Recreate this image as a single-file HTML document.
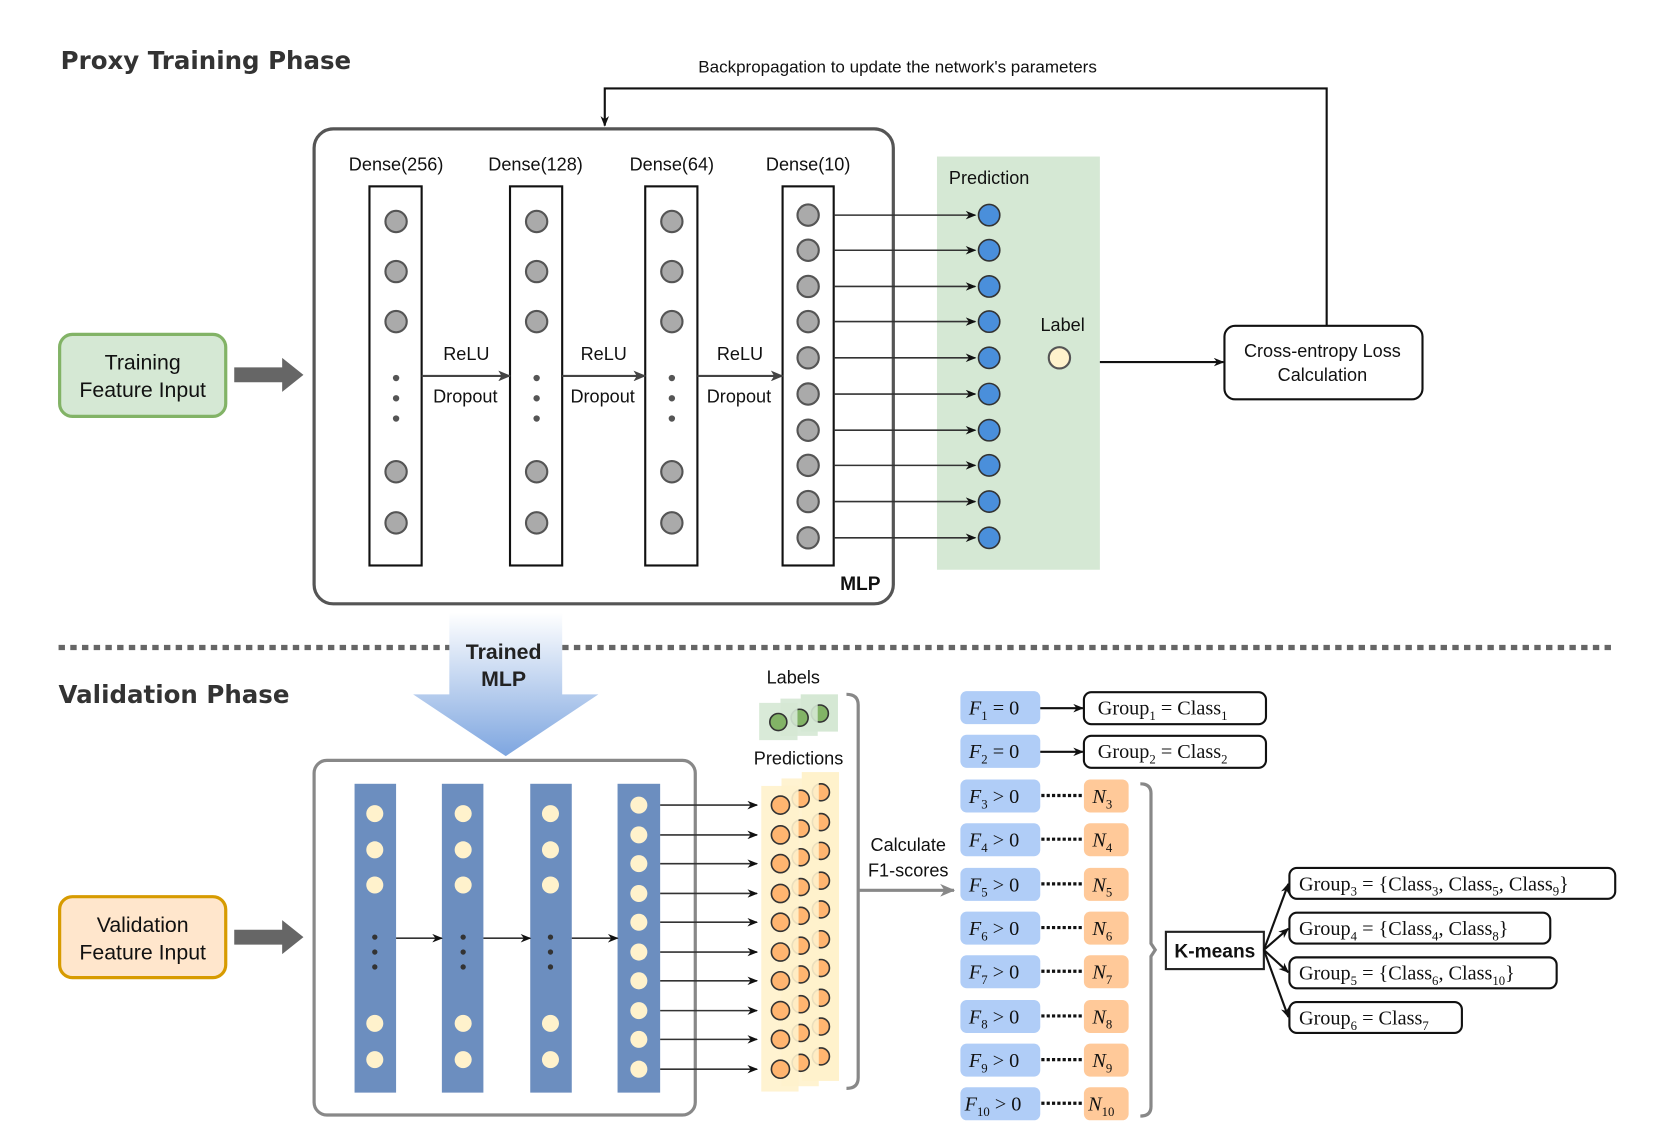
<!DOCTYPE html>
<html><head><meta charset="utf-8"><style>
html,body{margin:0;padding:0;background:#fff}
svg{display:block}
svg text{font-family:"Liberation Sans",Arial,sans-serif;fill:#111}
svg text.m{font-family:"Liberation Serif","Times New Roman",serif;font-size:19px}
.i{font-style:italic}
</style></head><body>
<svg width="1661" height="1148" viewBox="0 0 1560 1078" preserveAspectRatio="none" xmlns="http://www.w3.org/2000/svg" font-family="Liberation Sans, sans-serif">
<defs>
<marker id="a" markerWidth="10" markerHeight="8" refX="9" refY="4" orient="auto" markerUnits="userSpaceOnUse"><path d="M0,0 L10,4 L0,8 L3,4z" fill="#111"/></marker>
<marker id="g" markerWidth="12" markerHeight="10" refX="11" refY="5" orient="auto" markerUnits="userSpaceOnUse"><path d="M0,0 L12,5 L0,10 L3,5z" fill="#444"/></marker>
<marker id="gr" markerWidth="14" markerHeight="12" refX="13" refY="6" orient="auto" markerUnits="userSpaceOnUse"><path d="M0,0 L14,6 L0,12 L4,6z" fill="#888"/></marker>
<linearGradient id="tg" x1="0" y1="0" x2="0" y2="1"><stop offset="0" stop-color="#ffffff"/><stop offset="1" stop-color="#7ea6e0"/></linearGradient>
</defs>

<!-- Titles -->
<text x="57" y="65" font-family="DejaVu Sans, sans-serif" style="font-family:'DejaVu Sans',sans-serif;font-size:23px;font-weight:bold;fill:#333">Proxy Training Phase</text>
<text x="55" y="660" font-family="DejaVu Sans, sans-serif" style="font-family:'DejaVu Sans',sans-serif;font-size:23px;font-weight:bold;fill:#333">Validation Phase</text>

<!-- Backprop -->
<text x="843" y="68" font-size="16" text-anchor="middle">Backpropagation to update the network's parameters</text>
<polyline points="1246,306 1246,83 568,83 568,118" fill="none" stroke="#111" stroke-width="2" marker-end="url(#a)"/>

<!-- MLP box -->
<rect x="295" y="121" width="544" height="446" rx="18" fill="none" stroke="#555" stroke-width="3"/>
<text x="808" y="554" font-size="18" font-weight="bold" text-anchor="middle">MLP</text>

<g font-size="17" text-anchor="middle">
<text x="372" y="160">Dense(256)</text><text x="503" y="160">Dense(128)</text><text x="631" y="160">Dense(64)</text><text x="759" y="160">Dense(10)</text>
<text x="438" y="338">ReLU</text><text x="437" y="378">Dropout</text>
<text x="567" y="338">ReLU</text><text x="566" y="378">Dropout</text>
<text x="695" y="338">ReLU</text><text x="694" y="378">Dropout</text>
</g>
<g fill="none" stroke="#111" stroke-width="2">
<rect x="347" y="175" width="49" height="356"/><rect x="479" y="175" width="49" height="356"/><rect x="606" y="175" width="49" height="356"/><rect x="735" y="175" width="48" height="356"/>
</g>
<g stroke="#444" stroke-width="2" marker-end="url(#g)">
<line x1="396" y1="353" x2="479" y2="353"/><line x1="528" y1="353" x2="606" y2="353"/><line x1="655" y1="353" x2="735" y2="353"/>
</g>
<g fill="#aaa" stroke="#555" stroke-width="2">
<circle cx="372" cy="208" r="10"/><circle cx="372" cy="255" r="10"/><circle cx="372" cy="302" r="10"/><circle cx="372" cy="443" r="10"/><circle cx="372" cy="491" r="10"/>
<circle cx="504" cy="208" r="10"/><circle cx="504" cy="255" r="10"/><circle cx="504" cy="302" r="10"/><circle cx="504" cy="443" r="10"/><circle cx="504" cy="491" r="10"/>
<circle cx="631" cy="208" r="10"/><circle cx="631" cy="255" r="10"/><circle cx="631" cy="302" r="10"/><circle cx="631" cy="443" r="10"/><circle cx="631" cy="491" r="10"/>
<circle cx="759" cy="202" r="10"/><circle cx="759" cy="235" r="10"/><circle cx="759" cy="269" r="10"/><circle cx="759" cy="302" r="10"/><circle cx="759" cy="336" r="10"/><circle cx="759" cy="370" r="10"/><circle cx="759" cy="404" r="10"/><circle cx="759" cy="437" r="10"/><circle cx="759" cy="471" r="10"/><circle cx="759" cy="505" r="10"/>
</g>
<g fill="#555">
<circle cx="372" cy="355" r="3"/><circle cx="372" cy="374" r="3"/><circle cx="372" cy="393" r="3"/>
<circle cx="504" cy="355" r="3"/><circle cx="504" cy="374" r="3"/><circle cx="504" cy="393" r="3"/>
<circle cx="631" cy="355" r="3"/><circle cx="631" cy="374" r="3"/><circle cx="631" cy="393" r="3"/>
</g>

<!-- Prediction panel -->
<rect x="880" y="147" width="153" height="388" fill="#d5e8d4"/>
<text x="929" y="173" font-size="17" text-anchor="middle">Prediction</text>
<text x="998" y="311" font-size="17" text-anchor="middle">Label</text>
<circle cx="995" cy="336" r="10" fill="#fff2cc" stroke="#555" stroke-width="2"/>
<g stroke="#333" stroke-width="1.5" marker-end="url(#a)">
<line x1="783" y1="202" x2="916" y2="202"/><line x1="783" y1="235" x2="916" y2="235"/><line x1="783" y1="269" x2="916" y2="269"/><line x1="783" y1="302" x2="916" y2="302"/><line x1="783" y1="336" x2="916" y2="336"/><line x1="783" y1="370" x2="916" y2="370"/><line x1="783" y1="404" x2="916" y2="404"/><line x1="783" y1="437" x2="916" y2="437"/><line x1="783" y1="471" x2="916" y2="471"/><line x1="783" y1="505" x2="916" y2="505"/>
</g>
<g fill="#4a8fdb" stroke="#333" stroke-width="1.5">
<circle cx="929" cy="202" r="10"/><circle cx="929" cy="235" r="10"/><circle cx="929" cy="269" r="10"/><circle cx="929" cy="302" r="10"/><circle cx="929" cy="336" r="10"/><circle cx="929" cy="370" r="10"/><circle cx="929" cy="404" r="10"/><circle cx="929" cy="437" r="10"/><circle cx="929" cy="471" r="10"/><circle cx="929" cy="505" r="10"/>
</g>
<line x1="1033" y1="340" x2="1149" y2="340" stroke="#111" stroke-width="2" marker-end="url(#a)"/>
<rect x="1150" y="306" width="186" height="69" rx="10" fill="#fff" stroke="#111" stroke-width="2"/>
<text x="1242" y="335" font-size="17" text-anchor="middle">Cross-entropy Loss</text>
<text x="1242" y="358" font-size="17" text-anchor="middle">Calculation</text>

<!-- Training input -->
<rect x="56" y="314" width="156" height="77" rx="12" fill="#d5e8d4" stroke="#82b366" stroke-width="3"/>
<text x="134" y="347" font-size="20" text-anchor="middle">Training</text>
<text x="134" y="373" font-size="20" text-anchor="middle">Feature Input</text>
<path d="M220,345 L265,345 L265,336 L285,352 L265,368 L265,359 L220,359z" fill="#666"/>

<!-- divider -->
<line x1="55" y1="608" x2="1517" y2="608" stroke="#666" stroke-width="5" stroke-dasharray="6,5"/>

<!-- Trained MLP arrow -->
<path d="M422,575 L528,575 L528,652 L562,652 L475,710 L388,652 L422,652z" fill="url(#tg)"/>
<text x="473" y="619" font-size="20" font-weight="bold" text-anchor="middle" style="fill:#222">Trained</text>
<text x="473" y="644" font-size="20" font-weight="bold" text-anchor="middle" style="fill:#222">MLP</text>

<!-- Validation input -->
<rect x="56" y="842" width="156" height="76" rx="12" fill="#ffe6cc" stroke="#d79b00" stroke-width="3"/>
<text x="134" y="875" font-size="20" text-anchor="middle">Validation</text>
<text x="134" y="901" font-size="20" text-anchor="middle">Feature Input</text>
<path d="M220,873 L265,873 L265,864 L285,880 L265,896 L265,887 L220,887z" fill="#666"/>

<!-- Validation network -->
<rect x="295" y="714" width="358" height="333" rx="12" fill="none" stroke="#888" stroke-width="3"/>
<g fill="#6c8ebf">
<rect x="333" y="736" width="39" height="290"/><rect x="415" y="736" width="39" height="290"/><rect x="498" y="736" width="39" height="290"/><rect x="580" y="736" width="40" height="290"/>
</g>
<g stroke="#333" stroke-width="1.5" marker-end="url(#a)">
<line x1="372" y1="881" x2="415" y2="881"/><line x1="454" y1="881" x2="498" y2="881"/><line x1="537" y1="881" x2="580" y2="881"/>
</g>
<g fill="#fff2cc">
<circle cx="352" cy="764" r="8"/><circle cx="352" cy="798" r="8"/><circle cx="352" cy="831" r="8"/><circle cx="352" cy="961" r="8"/><circle cx="352" cy="995" r="8"/>
<circle cx="435" cy="764" r="8"/><circle cx="435" cy="798" r="8"/><circle cx="435" cy="831" r="8"/><circle cx="435" cy="961" r="8"/><circle cx="435" cy="995" r="8"/>
<circle cx="517" cy="764" r="8"/><circle cx="517" cy="798" r="8"/><circle cx="517" cy="831" r="8"/><circle cx="517" cy="961" r="8"/><circle cx="517" cy="995" r="8"/>
<circle cx="600" cy="756" r="8"/><circle cx="600" cy="784" r="8"/><circle cx="600" cy="811" r="8"/><circle cx="600" cy="839" r="8"/><circle cx="600" cy="866" r="8"/><circle cx="600" cy="894" r="8"/><circle cx="600" cy="921" r="8"/><circle cx="600" cy="949" r="8"/><circle cx="600" cy="976" r="8"/><circle cx="600" cy="1004" r="8"/>
</g>
<g fill="#333">
<circle cx="352" cy="880" r="2.5"/><circle cx="352" cy="894" r="2.5"/><circle cx="352" cy="908" r="2.5"/>
<circle cx="435" cy="880" r="2.5"/><circle cx="435" cy="894" r="2.5"/><circle cx="435" cy="908" r="2.5"/>
<circle cx="517" cy="880" r="2.5"/><circle cx="517" cy="894" r="2.5"/><circle cx="517" cy="908" r="2.5"/>
</g>
<g stroke="#333" stroke-width="1.5" marker-end="url(#a)">
<line x1="620" y1="756" x2="711" y2="756"/><line x1="620" y1="784" x2="711" y2="784"/><line x1="620" y1="811" x2="711" y2="811"/><line x1="620" y1="839" x2="711" y2="839"/><line x1="620" y1="866" x2="711" y2="866"/><line x1="620" y1="894" x2="711" y2="894"/><line x1="620" y1="921" x2="711" y2="921"/><line x1="620" y1="949" x2="711" y2="949"/><line x1="620" y1="976" x2="711" y2="976"/><line x1="620" y1="1004" x2="711" y2="1004"/>
</g>

<!-- Labels stack -->
<text x="745" y="642" font-size="17" text-anchor="middle">Labels</text>
<rect x="752" y="652" width="35" height="35" fill="#d5e8d4"/>
<circle cx="770" cy="670" r="8" fill="#82b366" stroke="#333" stroke-width="1.5"/>
<rect x="733" y="656" width="35" height="35" fill="#d5e8d4" opacity="0.9"/>
<circle cx="751" cy="674" r="8" fill="#82b366" stroke="#333" stroke-width="1.5"/>
<rect x="713" y="660" width="36" height="35" fill="#d5e8d4" opacity="0.9"/>
<circle cx="731" cy="678" r="8" fill="#82b366" stroke="#333" stroke-width="1.5"/>

<!-- Predictions stack -->
<text x="750" y="718" font-size="17" text-anchor="middle">Predictions</text>
<rect x="753" y="725" width="35" height="290" fill="#fff2cc"/>
<g fill="#ffb570" stroke="#333" stroke-width="1.5">
<circle cx="771" cy="744" r="8"/><circle cx="771" cy="772" r="8"/><circle cx="771" cy="799" r="8"/><circle cx="771" cy="827" r="8"/><circle cx="771" cy="854" r="8"/><circle cx="771" cy="882" r="8"/><circle cx="771" cy="909" r="8"/><circle cx="771" cy="937" r="8"/><circle cx="771" cy="964" r="8"/><circle cx="771" cy="992" r="8"/>
</g>
<rect x="734" y="731" width="35" height="289" fill="#fff2cc" opacity="0.9"/>
<g fill="#ffb570" stroke="#333" stroke-width="1.5">
<circle cx="752" cy="750" r="8"/><circle cx="752" cy="778" r="8"/><circle cx="752" cy="805" r="8"/><circle cx="752" cy="833" r="8"/><circle cx="752" cy="860" r="8"/><circle cx="752" cy="888" r="8"/><circle cx="752" cy="915" r="8"/><circle cx="752" cy="943" r="8"/><circle cx="752" cy="970" r="8"/><circle cx="752" cy="998" r="8"/>
</g>
<rect x="715" y="738" width="35" height="287" fill="#fff2cc" opacity="0.9"/>
<g fill="#ffb570" stroke="#333" stroke-width="1.5">
<circle cx="733" cy="756" r="8.5"/><circle cx="733" cy="784" r="8.5"/><circle cx="733" cy="811" r="8.5"/><circle cx="733" cy="839" r="8.5"/><circle cx="733" cy="866" r="8.5"/><circle cx="733" cy="894" r="8.5"/><circle cx="733" cy="921" r="8.5"/><circle cx="733" cy="949" r="8.5"/><circle cx="733" cy="976" r="8.5"/><circle cx="733" cy="1004" r="8.5"/>
</g>

<!-- brace + calc -->
<path d="M795,652 Q806,652 806,662 L806,1012 Q806,1022 795,1022" fill="none" stroke="#888" stroke-width="3"/>
<line x1="806" y1="836" x2="896" y2="836" stroke="#888" stroke-width="3" marker-end="url(#gr)"/>
<text x="853" y="799" font-size="17" text-anchor="middle">Calculate</text>
<text x="853" y="823" font-size="17" text-anchor="middle">F1-scores</text>

<!-- F boxes -->
<g fill="#b0cdf7">
<rect x="902" y="649" width="75" height="31" rx="6"/><rect x="902" y="690" width="75" height="31" rx="6"/><rect x="902" y="732" width="75" height="31" rx="6"/><rect x="902" y="773" width="75" height="31" rx="6"/><rect x="902" y="815" width="75" height="31" rx="6"/><rect x="902" y="856" width="75" height="31" rx="6"/><rect x="902" y="897" width="75" height="31" rx="6"/><rect x="902" y="939" width="75" height="31" rx="6"/><rect x="902" y="980" width="75" height="31" rx="6"/><rect x="902" y="1021" width="75" height="31" rx="6"/>
</g>
<g font-family="Liberation Serif, serif" font-size="19">
<text class="m" x="910" y="671"><tspan class="i">F</tspan><tspan font-size="12" dy="5">1</tspan><tspan dy="-5"> = 0</tspan></text>
<text class="m" x="910" y="712"><tspan class="i">F</tspan><tspan font-size="12" dy="5">2</tspan><tspan dy="-5"> = 0</tspan></text>
<text class="m" x="910" y="754"><tspan class="i">F</tspan><tspan font-size="12" dy="5">3</tspan><tspan dy="-5"> &gt; 0</tspan></text>
<text class="m" x="910" y="795"><tspan class="i">F</tspan><tspan font-size="12" dy="5">4</tspan><tspan dy="-5"> &gt; 0</tspan></text>
<text class="m" x="910" y="837"><tspan class="i">F</tspan><tspan font-size="12" dy="5">5</tspan><tspan dy="-5"> &gt; 0</tspan></text>
<text class="m" x="910" y="878"><tspan class="i">F</tspan><tspan font-size="12" dy="5">6</tspan><tspan dy="-5"> &gt; 0</tspan></text>
<text class="m" x="910" y="919"><tspan class="i">F</tspan><tspan font-size="12" dy="5">7</tspan><tspan dy="-5"> &gt; 0</tspan></text>
<text class="m" x="910" y="961"><tspan class="i">F</tspan><tspan font-size="12" dy="5">8</tspan><tspan dy="-5"> &gt; 0</tspan></text>
<text class="m" x="910" y="1002"><tspan class="i">F</tspan><tspan font-size="12" dy="5">9</tspan><tspan dy="-5"> &gt; 0</tspan></text>
<text class="m" x="906" y="1043"><tspan class="i">F</tspan><tspan font-size="12" dy="5">10</tspan><tspan dy="-5"> &gt; 0</tspan></text>
</g>
<g stroke="#111" stroke-width="2" marker-end="url(#a)">
<line x1="977" y1="665" x2="1017" y2="665"/><line x1="977" y1="706" x2="1017" y2="706"/>
</g>
<g fill="#fff" stroke="#111" stroke-width="2">
<rect x="1018" y="650" width="171" height="30" rx="7"/><rect x="1018" y="691" width="171" height="30" rx="7"/>
</g>
<g font-family="Liberation Serif, serif" font-size="19">
<text class="m" x="1031" y="671">Group<tspan font-size="12" dy="5">1</tspan><tspan dy="-5"> = Class</tspan><tspan font-size="12" dy="5">1</tspan></text>
<text class="m" x="1031" y="712">Group<tspan font-size="12" dy="5">2</tspan><tspan dy="-5"> = Class</tspan><tspan font-size="12" dy="5">2</tspan></text>
</g>
<g stroke="#111" stroke-width="3" stroke-dasharray="3,2">
<line x1="978" y1="747" x2="1018" y2="747"/><line x1="978" y1="788" x2="1018" y2="788"/><line x1="978" y1="830" x2="1018" y2="830"/><line x1="978" y1="871" x2="1018" y2="871"/><line x1="978" y1="912" x2="1018" y2="912"/><line x1="978" y1="954" x2="1018" y2="954"/><line x1="978" y1="995" x2="1018" y2="995"/><line x1="978" y1="1036" x2="1018" y2="1036"/>
</g>
<g fill="#ffc999">
<rect x="1018" y="732" width="42" height="31" rx="6"/><rect x="1018" y="773" width="42" height="31" rx="6"/><rect x="1018" y="815" width="42" height="31" rx="6"/><rect x="1018" y="856" width="42" height="31" rx="6"/><rect x="1018" y="897" width="42" height="31" rx="6"/><rect x="1018" y="939" width="42" height="31" rx="6"/><rect x="1018" y="980" width="42" height="31" rx="6"/><rect x="1018" y="1021" width="42" height="31" rx="6"/>
</g>
<g font-family="Liberation Serif, serif" font-size="19">
<text class="m" x="1026" y="754"><tspan class="i">N</tspan><tspan font-size="12" dy="5">3</tspan></text>
<text class="m" x="1026" y="795"><tspan class="i">N</tspan><tspan font-size="12" dy="5">4</tspan></text>
<text class="m" x="1026" y="837"><tspan class="i">N</tspan><tspan font-size="12" dy="5">5</tspan></text>
<text class="m" x="1026" y="878"><tspan class="i">N</tspan><tspan font-size="12" dy="5">6</tspan></text>
<text class="m" x="1026" y="919"><tspan class="i">N</tspan><tspan font-size="12" dy="5">7</tspan></text>
<text class="m" x="1026" y="961"><tspan class="i">N</tspan><tspan font-size="12" dy="5">8</tspan></text>
<text class="m" x="1026" y="1002"><tspan class="i">N</tspan><tspan font-size="12" dy="5">9</tspan></text>
<text class="m" x="1022" y="1043"><tspan class="i">N</tspan><tspan font-size="12" dy="5">10</tspan></text>
</g>

<!-- right brace -->
<path d="M1071,736 Q1081,736 1081,745 L1081,886 L1085,892 L1081,898 L1081,1039 Q1081,1048 1071,1048" fill="none" stroke="#888" stroke-width="3"/>

<!-- K-means -->
<rect x="1095" y="875" width="92" height="35" fill="#fff" stroke="#222" stroke-width="2"/>
<text x="1141" y="899" font-size="18" font-weight="bold" text-anchor="middle">K-means</text>
<g stroke="#111" stroke-width="2" fill="none" marker-end="url(#a)">
<line x1="1187" y1="892" x2="1210" y2="830"/><line x1="1187" y1="892" x2="1210" y2="872"/><line x1="1187" y1="892" x2="1210" y2="913"/><line x1="1187" y1="892" x2="1210" y2="955"/>
</g>
<g fill="#fff" stroke="#111" stroke-width="2">
<rect x="1211" y="815" width="306" height="29" rx="7"/><rect x="1211" y="857" width="245" height="29" rx="7"/><rect x="1211" y="899" width="251" height="29" rx="7"/><rect x="1211" y="941" width="162" height="29" rx="7"/>
</g>
<g font-family="Liberation Serif, serif" font-size="19">
<text class="m" x="1220" y="836">Group<tspan font-size="12" dy="5">3</tspan><tspan dy="-5"> = {Class</tspan><tspan font-size="12" dy="5">3</tspan><tspan dy="-5">, Class</tspan><tspan font-size="12" dy="5">5</tspan><tspan dy="-5">, Class</tspan><tspan font-size="12" dy="5">9</tspan><tspan dy="-5">}</tspan></text>
<text class="m" x="1220" y="878">Group<tspan font-size="12" dy="5">4</tspan><tspan dy="-5"> = {Class</tspan><tspan font-size="12" dy="5">4</tspan><tspan dy="-5">, Class</tspan><tspan font-size="12" dy="5">8</tspan><tspan dy="-5">}</tspan></text>
<text class="m" x="1220" y="920">Group<tspan font-size="12" dy="5">5</tspan><tspan dy="-5"> = {Class</tspan><tspan font-size="12" dy="5">6</tspan><tspan dy="-5">, Class</tspan><tspan font-size="12" dy="5">10</tspan><tspan dy="-5">}</tspan></text>
<text class="m" x="1220" y="962">Group<tspan font-size="12" dy="5">6</tspan><tspan dy="-5"> = Class</tspan><tspan font-size="12" dy="5">7</tspan></text>
</g>
</svg>
</body></html>
